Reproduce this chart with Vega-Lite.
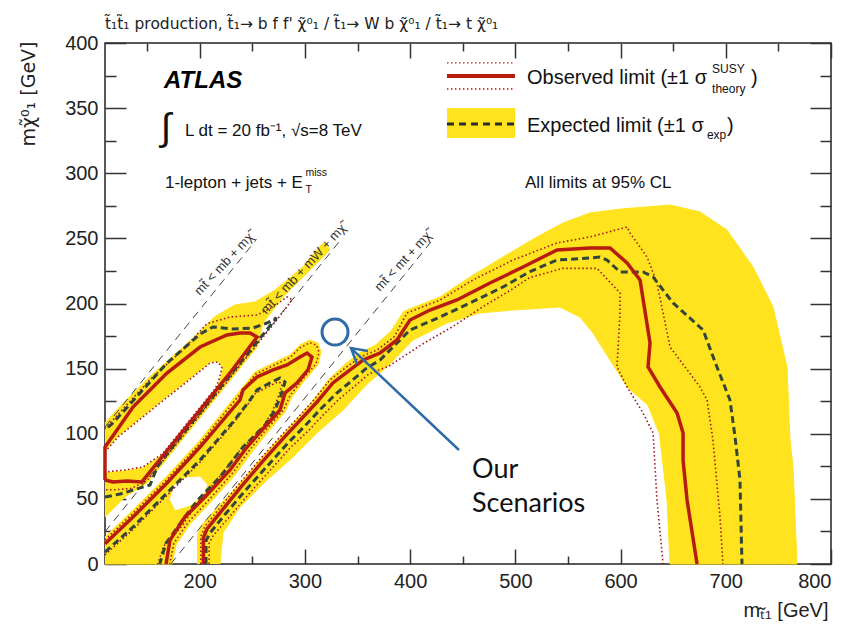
{
"$schema":"https://vega.github.io/schema/vega-lite/v6.json",
"width":726,"height":521,
"autosize":{"type":"none"},
"padding":{"left":105,"top":43,"right":19,"bottom":75},
"background":"white",
"title":{"text":"t\u0303\u2081t\u0303\u2081 production, t\u0303\u2081\u2192 b f f' \u03c7\u0303\u2070\u2081 / t\u0303\u2081\u2192 W b \u03c7\u0303\u2070\u2081 / t\u0303\u2081\u2192 t \u03c7\u0303\u2070\u2081","anchor":"start","frame":"group","font":"DejaVu Sans","fontSize":15.5,"fontWeight":"normal","color":"#222","baseline":"alphabetic","offset":-11},
"config":{"font":"Liberation Sans","view":{"stroke":"#222","strokeWidth":1.5},"axis":{"grid":false,"tickColor":"#333","tickWidth":1.5,"labelColor":"#222","titleColor":"#222","labelFont":"Liberation Sans","titleFont":"Liberation Sans"}},
"resolve":{"axis":{"x":"independent","y":"independent"}},
"datasets":{
"yellow":[
{"g":"A","x":110,"y":108.3},{"g":"A","x":124.3,"y":121},{"g":"A","x":152.8,"y":144},{"g":"A","x":184.1,"y":166.5},{"g":"A","x":200.3,"y":178.5},{"g":"A","x":214.5,"y":190},{"g":"A","x":233.6,"y":198.9},{"g":"A","x":252.6,"y":201.2},{"g":"A","x":271.6,"y":210.4},{"g":"A","x":285.8,"y":219.6},{"g":"A","x":300.1,"y":229.6},{"g":"A","x":309.6,"y":239.5},{"g":"A","x":316.2,"y":245.7},{"g":"A","x":320,"y":246},{"g":"A","x":323.8,"y":241.1},{"g":"A","x":302,"y":223.4},{"g":"A","x":279.2,"y":205},{"g":"A","x":260.2,"y":185},{"g":"A","x":255,"y":167},{"g":"A","x":250,"y":162},{"g":"A","x":220,"y":132},{"g":"A","x":190,"y":102},{"g":"A","x":160,"y":72},{"g":"A","x":150,"y":62},{"g":"A","x":146.1,"y":60.5},{"g":"A","x":129,"y":51.4},{"g":"A","x":111.9,"y":37.6},{"g":"A","x":110,"y":36.1},
{"g":"B","x":110,"y":20.7},{"g":"B","x":136.6,"y":41.5},{"g":"B","x":168.9,"y":67.6},{"g":"B","x":200.3,"y":95.2},{"g":"B","x":236.4,"y":131.3},{"g":"B","x":252.6,"y":147.4},{"g":"B","x":269.7,"y":154.3},{"g":"B","x":285.8,"y":160.5},{"g":"B","x":295.3,"y":168.1},{"g":"B","x":304.8,"y":172},{"g":"B","x":312.4,"y":169.7},{"g":"B","x":315.3,"y":162.8},{"g":"B","x":312.4,"y":152.8},{"g":"B","x":300.1,"y":141.3},{"g":"B","x":287.7,"y":128.2},{"g":"B","x":281.1,"y":116.7},{"g":"B","x":264.9,"y":101.3},{"g":"B","x":249.7,"y":86},{"g":"B","x":233.6,"y":68.3},{"g":"B","x":209.8,"y":46.8},{"g":"B","x":190.8,"y":30.7},{"g":"B","x":177.5,"y":14.6},{"g":"B","x":173.7,"y":0},{"g":"B","x":110,"y":0},
{"g":"C","x":198,"y":0},{"g":"C","x":198,"y":22},{"g":"C","x":202,"y":30},{"g":"C","x":214,"y":41},{"g":"C","x":236,"y":60},{"g":"C","x":257,"y":80},{"g":"C","x":277,"y":98},{"g":"C","x":292,"y":111},{"g":"C","x":308,"y":126},{"g":"C","x":323,"y":142},{"g":"C","x":339,"y":154},{"g":"C","x":352,"y":162},{"g":"C","x":367,"y":168},{"g":"C","x":382,"y":179},{"g":"C","x":394,"y":194},{"g":"C","x":428.4,"y":205},{"g":"C","x":456.9,"y":220.4},{"g":"C","x":488.3,"y":235.7},{"g":"C","x":520.6,"y":251.1},{"g":"C","x":545.3,"y":261.8},{"g":"C","x":570.9,"y":269.5},{"g":"C","x":600,"y":272.5},{"g":"C","x":647,"y":275.6},{"g":"C","x":675.5,"y":270.3},{"g":"C","x":701.1,"y":256.4},{"g":"C","x":725.9,"y":228},{"g":"C","x":744.9,"y":197.3},{"g":"C","x":758.2,"y":151.3},{"g":"C","x":761,"y":95.2},{"g":"C","x":763.9,"y":74.5},{"g":"C","x":767.7,"y":0},{"g":"C","x":647,"y":0},{"g":"C","x":644.2,"y":49.1},{"g":"C","x":637,"y":100},{"g":"C","x":626,"y":122},{"g":"C","x":606.2,"y":135.9},{"g":"C","x":590,"y":156.6},{"g":"C","x":573.8,"y":177.4},{"g":"C","x":561.4,"y":189.6},{"g":"C","x":542.4,"y":197.3},{"g":"C","x":497.8,"y":195},{"g":"C","x":466.4,"y":192.7},{"g":"C","x":435,"y":185},{"g":"C","x":402.8,"y":172},{"g":"C","x":380,"y":153},{"g":"C","x":359,"y":138},{"g":"C","x":336.2,"y":118.2},{"g":"C","x":311.5,"y":100.6},{"g":"C","x":288.7,"y":82.2},{"g":"C","x":264,"y":64.5},{"g":"C","x":238.3,"y":43.8},{"g":"C","x":222.1,"y":23.8},{"g":"C","x":219.3,"y":0}
],
"holes":[
{"g":"A","x":110,"y":86},{"g":"A","x":122.4,"y":97.5},{"g":"A","x":136.6,"y":106.7},{"g":"A","x":162.3,"y":123.6},{"g":"A","x":193.6,"y":143.6},{"g":"A","x":209.8,"y":154.3},{"g":"A","x":217.4,"y":155.1},{"g":"A","x":221.2,"y":150.5},{"g":"A","x":218.3,"y":141.3},{"g":"A","x":215,"y":135},{"g":"A","x":190,"y":110},{"g":"A","x":165,"y":85},{"g":"A","x":146.1,"y":74.5},{"g":"A","x":129,"y":72.2},{"g":"A","x":110,"y":70.6},
{"g":"B","x":171.8,"y":49.1},{"g":"B","x":176.5,"y":60.7},{"g":"B","x":186,"y":66},{"g":"B","x":200.3,"y":66.8},{"g":"B","x":206.9,"y":60.7},{"g":"B","x":203.1,"y":53},{"g":"B","x":190.8,"y":45.3},{"g":"B","x":176.5,"y":41.5}
],
"kin":[
{"g":"1","x":110,"y":105.2},{"g":"1","x":254,"y":249.2},
{"g":"2","x":110,"y":24.8},{"g":"2","x":335,"y":249.8},
{"g":"3","x":172.5,"y":0},{"g":"3","x":423,"y":250.5}
],
"dotted":[
{"g":"Au","x":110,"y":104},{"g":"Au","x":152.8,"y":141.5},{"g":"Au","x":184.1,"y":164.5},{"g":"Au","x":206.9,"y":184.5},{"g":"Au","x":228.8,"y":189.6},{"g":"Au","x":254.5,"y":191.2},{"g":"Au","x":269.7,"y":197.3},{"g":"Au","x":283,"y":205},{"g":"Au","x":288,"y":203},{"g":"Au","x":272,"y":186},{"g":"Au","x":240,"y":154},{"g":"Au","x":200,"y":114},{"g":"Au","x":160,"y":74},{"g":"Au","x":150,"y":64},{"g":"Au","x":135,"y":58},{"g":"Au","x":120,"y":57},{"g":"Au","x":110,"y":57},
{"g":"Ad","x":110,"y":86},{"g":"Ad","x":122.4,"y":97.5},{"g":"Ad","x":136.6,"y":106.7},{"g":"Ad","x":162.3,"y":123.6},{"g":"Ad","x":193.6,"y":143.6},{"g":"Ad","x":209.8,"y":154.3},{"g":"Ad","x":217.4,"y":155.1},{"g":"Ad","x":221.2,"y":150.5},{"g":"Ad","x":218.3,"y":141.3},{"g":"Ad","x":215,"y":135},{"g":"Ad","x":190,"y":110},{"g":"Ad","x":165,"y":85},{"g":"Ad","x":146.1,"y":74.5},{"g":"Ad","x":129,"y":72.2},{"g":"Ad","x":110,"y":70.6},
{"g":"Bu","x":110,"y":18.5},{"g":"Bu","x":136.6,"y":39},{"g":"Bu","x":168.9,"y":65},{"g":"Bu","x":200.3,"y":92.5},{"g":"Bu","x":236.4,"y":128.5},{"g":"Bu","x":252.6,"y":145.5},{"g":"Bu","x":269.7,"y":152.3},{"g":"Bu","x":285.8,"y":158.5},{"g":"Bu","x":295.3,"y":166},{"g":"Bu","x":304.8,"y":170},{"g":"Bu","x":311,"y":168},{"g":"Bu","x":313.5,"y":162.5},{"g":"Bu","x":310.5,"y":153.5},{"g":"Bu","x":298.5,"y":142.5},{"g":"Bu","x":286,"y":129.5},{"g":"Bu","x":279.5,"y":118},{"g":"Bu","x":263,"y":103},{"g":"Bu","x":248,"y":88},{"g":"Bu","x":231.5,"y":70},{"g":"Bu","x":208,"y":48.5},{"g":"Bu","x":189,"y":32},{"g":"Bu","x":175.5,"y":16},{"g":"Bu","x":171.5,"y":0},
{"g":"Bd","x":110,"y":7},{"g":"Bd","x":136,"y":26},{"g":"Bd","x":168,"y":52},{"g":"Bd","x":199,"y":77},{"g":"Bd","x":230,"y":106},{"g":"Bd","x":246,"y":123},{"g":"Bd","x":253,"y":131},{"g":"Bd","x":266,"y":136.5},{"g":"Bd","x":275,"y":140},{"g":"Bd","x":278.5,"y":138},{"g":"Bd","x":275,"y":129},{"g":"Bd","x":269,"y":117},{"g":"Bd","x":260,"y":105},{"g":"Bd","x":239,"y":88},{"g":"Bd","x":217,"y":65},{"g":"Bd","x":198,"y":47},{"g":"Bd","x":184,"y":30},{"g":"Bd","x":166,"y":14},{"g":"Bd","x":160,"y":0},
{"g":"Cu","x":201,"y":0},{"g":"Cu","x":201,"y":21},{"g":"Cu","x":205,"y":29},{"g":"Cu","x":218,"y":42},{"g":"Cu","x":238,"y":62},{"g":"Cu","x":258,"y":81},{"g":"Cu","x":278,"y":99},{"g":"Cu","x":293,"y":112},{"g":"Cu","x":309,"y":126.5},{"g":"Cu","x":324,"y":141.5},{"g":"Cu","x":340,"y":151.5},{"g":"Cu","x":353,"y":159},{"g":"Cu","x":369,"y":164.5},{"g":"Cu","x":385,"y":174.5},{"g":"Cu","x":397,"y":192.7},{"g":"Cu","x":428.4,"y":202.7},{"g":"Cu","x":459.8,"y":218.1},{"g":"Cu","x":497.8,"y":233.4},{"g":"Cu","x":539.6,"y":246.5},{"g":"Cu","x":570.9,"y":251.1},{"g":"Cu","x":606.2,"y":258.7},{"g":"Cu","x":609,"y":254.1},{"g":"Cu","x":625.2,"y":235.7},{"g":"Cu","x":634.6,"y":215.7},{"g":"Cu","x":647,"y":166.6},{"g":"Cu","x":675.5,"y":135.9},{"g":"Cu","x":682.2,"y":125.9},{"g":"Cu","x":687.8,"y":95.2},{"g":"Cu","x":694.5,"y":36.1},{"g":"Cu","x":697.3,"y":0},
{"g":"Cd","x":209,"y":0},{"g":"Cd","x":209,"y":16},{"g":"Cd","x":213,"y":22},{"g":"Cd","x":227,"y":35},{"g":"Cd","x":247,"y":54},{"g":"Cd","x":267,"y":72},{"g":"Cd","x":287,"y":90},{"g":"Cd","x":303,"y":102},{"g":"Cd","x":318,"y":115},{"g":"Cd","x":333,"y":127},{"g":"Cd","x":348,"y":137},{"g":"Cd","x":361,"y":146},{"g":"Cd","x":380,"y":152},{"g":"Cd","x":410,"y":168},{"g":"Cd","x":440,"y":182},{"g":"Cd","x":470,"y":198},{"g":"Cd","x":495,"y":210},{"g":"Cd","x":513.9,"y":220},{"g":"Cd","x":545,"y":227},{"g":"Cd","x":577.6,"y":227},{"g":"Cd","x":599.5,"y":208.1},{"g":"Cd","x":599.5,"y":192.7},{"g":"Cd","x":596.6,"y":151.3},{"g":"Cd","x":606.2,"y":135.9},{"g":"Cd","x":621.4,"y":115.9},{"g":"Cd","x":630.9,"y":100.6},{"g":"Cd","x":634.6,"y":49.1},{"g":"Cd","x":640.4,"y":0}
],
"exp":[
{"g":"A","x":110,"y":51.4},{"g":"A","x":124.3,"y":53.7},{"g":"A","x":136.6,"y":56.8},{"g":"A","x":152.8,"y":60.7},{"g":"A","x":160,"y":75},{"g":"A","x":180,"y":96},{"g":"A","x":220,"y":136},{"g":"A","x":260,"y":176},{"g":"A","x":273,"y":189},{"g":"A","x":264,"y":185},{"g":"A","x":250.7,"y":181.2},{"g":"A","x":231.7,"y":180.4},{"g":"A","x":212.6,"y":182},{"g":"A","x":200.3,"y":176.5},{"g":"A","x":168.9,"y":154.3},{"g":"A","x":143.3,"y":131.3},{"g":"A","x":117.6,"y":108.3},{"g":"A","x":110,"y":102.9},
{"g":"B","x":110,"y":9.2},{"g":"B","x":136.6,"y":28.4},{"g":"B","x":168.9,"y":54.5},{"g":"B","x":200.3,"y":79.8},{"g":"B","x":231.7,"y":109},{"g":"B","x":247.8,"y":125.9},{"g":"B","x":254.5,"y":133.6},{"g":"B","x":266.8,"y":139},{"g":"B","x":276.3,"y":142.8},{"g":"B","x":281.1,"y":139.7},{"g":"B","x":277.3,"y":129.8},{"g":"B","x":271.6,"y":118.2},{"g":"B","x":262.1,"y":106.7},{"g":"B","x":241.2,"y":89.8},{"g":"B","x":219.3,"y":66.8},{"g":"B","x":198,"y":49},{"g":"B","x":183,"y":33},{"g":"B","x":168,"y":16},{"g":"B","x":162,"y":0},
{"g":"C","x":206,"y":0},{"g":"C","x":206,"y":18},{"g":"C","x":210,"y":24},{"g":"C","x":224,"y":38},{"g":"C","x":244,"y":57},{"g":"C","x":264,"y":75},{"g":"C","x":284,"y":93},{"g":"C","x":300,"y":106},{"g":"C","x":315,"y":119},{"g":"C","x":330,"y":131},{"g":"C","x":345,"y":141},{"g":"C","x":358,"y":150},{"g":"C","x":371.4,"y":156.6},{"g":"C","x":399.9,"y":179.7},{"g":"C","x":428.4,"y":189.6},{"g":"C","x":456.9,"y":200.4},{"g":"C","x":488.3,"y":212.7},{"g":"C","x":513.9,"y":224.5},{"g":"C","x":539.6,"y":233.4},{"g":"C","x":570.9,"y":234.9},{"g":"C","x":580.4,"y":235.7},{"g":"C","x":587.1,"y":233.4},{"g":"C","x":599.5,"y":224.2},{"g":"C","x":621.4,"y":224.2},{"g":"C","x":630.9,"y":220.4},{"g":"C","x":649.9,"y":200.4},{"g":"C","x":678.4,"y":179.7},{"g":"C","x":691.6,"y":151.3},{"g":"C","x":704,"y":125.9},{"g":"C","x":708.8,"y":97.5},{"g":"C","x":713.5,"y":64.5},{"g":"C","x":715.4,"y":0}
],
"obs":[
{"g":"A","x":110,"y":64.5},{"g":"A","x":117.6,"y":63},{"g":"A","x":130.9,"y":63.7},{"g":"A","x":145,"y":63},{"g":"A","x":170,"y":88},{"g":"A","x":200,"y":118},{"g":"A","x":230,"y":148},{"g":"A","x":254.5,"y":174.3},{"g":"A","x":247.8,"y":177.4},{"g":"A","x":238.3,"y":177.4},{"g":"A","x":225.9,"y":175.8},{"g":"A","x":200.3,"y":166.6},{"g":"A","x":168.9,"y":146.6},{"g":"A","x":152.8,"y":133.6},{"g":"A","x":136.6,"y":120.5},{"g":"A","x":121.4,"y":102.9},{"g":"A","x":110,"y":89.8},{"g":"A","x":110,"y":64.5},
{"g":"B","x":110,"y":15.5},{"g":"B","x":136.6,"y":36.1},{"g":"B","x":168.9,"y":62.2},{"g":"B","x":200.3,"y":89.8},{"g":"B","x":238.3,"y":125.9},{"g":"B","x":241.2,"y":133.6},{"g":"B","x":254.5,"y":143.6},{"g":"B","x":269.7,"y":149},{"g":"B","x":283,"y":152.8},{"g":"B","x":295.3,"y":158.9},{"g":"B","x":302,"y":162},{"g":"B","x":306.7,"y":158.9},{"g":"B","x":302.9,"y":149},{"g":"B","x":292.5,"y":139},{"g":"B","x":281.1,"y":131.3},{"g":"B","x":276.3,"y":118.2},{"g":"B","x":259.2,"y":102.9},{"g":"B","x":245,"y":89.8},{"g":"B","x":228.8,"y":72.2},{"g":"B","x":205,"y":51.4},{"g":"B","x":186,"y":36.1},{"g":"B","x":171.8,"y":18.4},{"g":"B","x":168,"y":0},
{"g":"C","x":203.5,"y":0},{"g":"C","x":203.5,"y":20},{"g":"C","x":207,"y":27},{"g":"C","x":220,"y":40},{"g":"C","x":240,"y":60},{"g":"C","x":260,"y":79},{"g":"C","x":280,"y":97},{"g":"C","x":295,"y":110},{"g":"C","x":311.5,"y":124.4},{"g":"C","x":326.6,"y":139},{"g":"C","x":342.9,"y":149},{"g":"C","x":355.2,"y":156.6},{"g":"C","x":371.4,"y":162},{"g":"C","x":387.5,"y":172},{"g":"C","x":399.9,"y":187.3},{"g":"C","x":418.9,"y":195},{"g":"C","x":444.5,"y":202.7},{"g":"C","x":475.9,"y":215.7},{"g":"C","x":507.3,"y":228},{"g":"C","x":539.6,"y":241.1},{"g":"C","x":570.9,"y":242.6},{"g":"C","x":590,"y":242.6},{"g":"C","x":606.2,"y":231.1},{"g":"C","x":618.5,"y":218.1},{"g":"C","x":628,"y":169.7},{"g":"C","x":626.1,"y":151.3},{"g":"C","x":637.5,"y":135.9},{"g":"C","x":653.7,"y":115.9},{"g":"C","x":659.4,"y":100.6},{"g":"C","x":659.4,"y":79.8},{"g":"C","x":663.2,"y":49.1},{"g":"C","x":672.7,"y":0}
],
"legDot":[{"g":"a","x":435,"y":384.7},{"g":"a","x":499.7,"y":384.7},{"g":"b","x":435,"y":364.7},{"g":"b","x":499.7,"y":364.7}],
"legRed":[{"g":"a","x":435,"y":374.7},{"g":"a","x":499.7,"y":374.7}],
"legDash":[{"g":"a","x":435,"y":337.8},{"g":"a","x":499.7,"y":337.8}],
"legBox":[{"x":435,"x2":499.7,"y":327.1,"y2":350.1}],
"arrow":[{"g":"shaft","x":446.4,"y":87.5},{"g":"shaft","x":343.8,"y":165.8},{"g":"head","x":349.5,"y":153.6},{"g":"head","x":343.8,"y":165.8},{"g":"head","x":360,"y":163.5}]
},
"layer":[
{"data":{"name":"yellow"},"mark":{"type":"line","fill":"#ffe31e","stroke":"#ffe31e","strokeWidth":1},
"encoding":{
"x":{"field":"x","type":"quantitative","scale":{"domain":[110,800],"nice":false,"zero":false},"axis":{"orient":"bottom","values":[200,300,400,500,600,700,800],"ticks":false,"domain":false,"labelFontSize":20,"labelPadding":7,"title":"m\u209c\u0303\u2081 [GeV]","titleFontSize":20,"titleFontWeight":"normal","titleAlign":"right","titleAnchor":"end","titleX":723,"titleY":46,"titleBaseline":"middle"}},
"y":{"field":"y","type":"quantitative","scale":{"domain":[0,400],"nice":false,"zero":false},"axis":{"orient":"left","values":[0,50,100,150,200,250,300,350,400],"ticks":false,"domain":false,"labelFontSize":20,"labelPadding":7,"title":"m\u03c7\u0303\u2070\u2081 [GeV]","titleFont":"DejaVu Sans","titleFontSize":19,"titleFontWeight":"normal","titleAngle":-90,"titleAlign":"right","titleAnchor":"end","titleX":-77,"titleY":-2,"titleBaseline":"middle"}},
"detail":{"field":"g"},"order":{"value":null}}},
{"data":{"name":"holes"},"mark":{"type":"line","fill":"white","stroke":"white","strokeWidth":1},
"encoding":{
"x":{"field":"x","type":"quantitative","scale":{"domain":[110,800],"nice":false,"zero":false},"axis":{"orient":"bottom","values":[200,300,400,500,600,700,800],"tickSize":-15,"labels":false,"domain":false,"title":null}},
"y":{"field":"y","type":"quantitative","scale":{"domain":[0,400],"nice":false,"zero":false},"axis":{"orient":"left","values":[0,50,100,150,200,250,300,350,400],"tickSize":-21,"labels":false,"domain":false,"title":null}},
"detail":{"field":"g"},"order":{"value":null}}},
{"data":{"name":"kin"},"mark":{"type":"line","stroke":"#444","strokeWidth":1,"strokeDash":[8,6]},
"encoding":{
"x":{"field":"x","type":"quantitative","scale":{"domain":[110,800],"nice":false,"zero":false},"axis":{"orient":"bottom","values":[150,250,350,450,550,650,750],"tickSize":-8,"labels":false,"domain":false,"title":null}},
"y":{"field":"y","type":"quantitative","scale":{"domain":[0,400],"nice":false,"zero":false},"axis":{"orient":"left","values":[25,75,125,175,225,275,325,375],"tickSize":-11,"labels":false,"domain":false,"title":null}},
"detail":{"field":"g"},"order":{"value":null}}},
{"data":{"name":"dotted"},"mark":{"type":"line","stroke":"#a3141c","strokeWidth":1.6,"strokeDash":[1.5,2.5]},
"encoding":{
"x":{"field":"x","type":"quantitative","scale":{"domain":[110,800],"nice":false,"zero":false},"axis":{"orient":"top","values":[200,300,400,500,600,700,800],"tickSize":-15,"labels":false,"domain":false,"title":null}},
"y":{"field":"y","type":"quantitative","scale":{"domain":[0,400],"nice":false,"zero":false},"axis":{"orient":"right","values":[0,50,100,150,200,250,300,350,400],"tickSize":-21,"labels":false,"domain":false,"title":null}},
"detail":{"field":"g"},"order":{"value":null}}},
{"data":{"name":"exp"},"mark":{"type":"line","stroke":"#34463a","strokeWidth":3,"strokeDash":[7,4]},
"encoding":{
"x":{"field":"x","type":"quantitative","scale":{"domain":[110,800],"nice":false,"zero":false},"axis":{"orient":"top","values":[150,250,350,450,550,650,750],"tickSize":-8,"labels":false,"domain":false,"title":null}},
"y":{"field":"y","type":"quantitative","scale":{"domain":[0,400],"nice":false,"zero":false},"axis":{"orient":"right","values":[25,75,125,175,225,275,325,375],"tickSize":-11,"labels":false,"domain":false,"title":null}},
"detail":{"field":"g"},"order":{"value":null}}},
{"data":{"name":"obs"},"mark":{"type":"line","stroke":"#b71c10","strokeWidth":3.5},
"encoding":{
"x":{"field":"x","type":"quantitative","scale":{"domain":[110,800],"nice":false,"zero":false},"axis":null},
"y":{"field":"y","type":"quantitative","scale":{"domain":[0,400],"nice":false,"zero":false},"axis":null},
"detail":{"field":"g"},"order":{"value":null}}},
{"data":{"name":"legBox"},"mark":{"type":"rect","fill":"#ffe31e"},
"encoding":{
"x":{"field":"x","type":"quantitative","scale":{"domain":[110,800],"nice":false,"zero":false},"axis":null},"x2":{"field":"x2"},
"y":{"field":"y","type":"quantitative","scale":{"domain":[0,400],"nice":false,"zero":false},"axis":null},"y2":{"field":"y2"}}},
{"data":{"name":"legDot"},"mark":{"type":"line","stroke":"#b71c10","strokeWidth":1.3,"strokeDash":[1.5,2.5]},
"encoding":{
"x":{"field":"x","type":"quantitative","scale":{"domain":[110,800],"nice":false,"zero":false},"axis":null},
"y":{"field":"y","type":"quantitative","scale":{"domain":[0,400],"nice":false,"zero":false},"axis":null},
"detail":{"field":"g"},"order":{"value":null}}},
{"data":{"name":"legRed"},"mark":{"type":"line","stroke":"#b71c10","strokeWidth":4},
"encoding":{
"x":{"field":"x","type":"quantitative","scale":{"domain":[110,800],"nice":false,"zero":false},"axis":null},
"y":{"field":"y","type":"quantitative","scale":{"domain":[0,400],"nice":false,"zero":false},"axis":null},
"detail":{"field":"g"},"order":{"value":null}}},
{"data":{"name":"legDash"},"mark":{"type":"line","stroke":"#2a2a2a","strokeWidth":3,"strokeDash":[7,5]},
"encoding":{
"x":{"field":"x","type":"quantitative","scale":{"domain":[110,800],"nice":false,"zero":false},"axis":null},
"y":{"field":"y","type":"quantitative","scale":{"domain":[0,400],"nice":false,"zero":false},"axis":null},
"detail":{"field":"g"},"order":{"value":null}}},
{"data":{"values":[{"x":328.6,"y":178.1}]},"mark":{"type":"point","shape":"circle","filled":false,"size":676,"stroke":"#2d6ca5","strokeWidth":3,"opacity":1},
"encoding":{
"x":{"field":"x","type":"quantitative","scale":{"domain":[110,800],"nice":false,"zero":false},"axis":null},
"y":{"field":"y","type":"quantitative","scale":{"domain":[0,400],"nice":false,"zero":false},"axis":null}}},
{"data":{"name":"arrow"},"mark":{"type":"line","stroke":"#2d6ca5","strokeWidth":2.5},
"encoding":{
"x":{"field":"x","type":"quantitative","scale":{"domain":[110,800],"nice":false,"zero":false},"axis":null},
"y":{"field":"y","type":"quantitative","scale":{"domain":[0,400],"nice":false,"zero":false},"axis":null},
"detail":{"field":"g"},"order":{"value":null}}},
{"data":{"values":[{"t":"mt\u0303 < mb + m\u03c7\u0303","x":223.1,"y":230.3},{"t":"mt\u0303 < mb + mW + m\u03c7\u0303","x":298.7,"y":226.5},{"t":"mt\u0303 < mt + m\u03c7\u0303","x":393.2,"y":232.3}]},
"mark":{"type":"text","angle":-47,"fontSize":13,"color":"#333","align":"center","baseline":"middle"},
"encoding":{
"x":{"field":"x","type":"quantitative","scale":{"domain":[110,800],"nice":false,"zero":false},"axis":null},
"y":{"field":"y","type":"quantitative","scale":{"domain":[0,400],"nice":false,"zero":false},"axis":null},
"text":{"field":"t"}}},
{"data":{"values":[{"t":"ATLAS","x":166.1,"y":365.5}]},
"mark":{"type":"text","fontSize":24,"fontWeight":"bold","fontStyle":"italic","color":"#000","align":"left","baseline":"alphabetic"},
"encoding":{
"x":{"field":"x","type":"quantitative","scale":{"domain":[110,800],"nice":false,"zero":false},"axis":null},
"y":{"field":"y","type":"quantitative","scale":{"domain":[0,400],"nice":false,"zero":false},"axis":null},
"text":{"field":"t"}}},
{"data":{"values":[{"t":"\u222b","x":163,"y":325.5}]},
"mark":{"type":"text","fontSize":38,"color":"#111","align":"left","baseline":"alphabetic"},
"encoding":{
"x":{"field":"x","type":"quantitative","scale":{"domain":[110,800],"nice":false,"zero":false},"axis":null},
"y":{"field":"y","type":"quantitative","scale":{"domain":[0,400],"nice":false,"zero":false},"axis":null},
"text":{"field":"t"}}},
{"data":{"values":[{"t":"L dt = 20 fb\u207b\u00b9, \u221as=8 TeV","x":186,"y":328.6},{"t":"1-lepton + jets + E","x":167,"y":288.7},{"t":"All limits at 95% CL","x":509.2,"y":288.7}]},
"mark":{"type":"text","fontSize":17,"color":"#111","align":"left","baseline":"alphabetic"},
"encoding":{
"x":{"field":"x","type":"quantitative","scale":{"domain":[110,800],"nice":false,"zero":false},"axis":null},
"y":{"field":"y","type":"quantitative","scale":{"domain":[0,400],"nice":false,"zero":false},"axis":null},
"text":{"field":"t"}}},
{"data":{"values":[{"t":"miss","x":300.5,"y":297.9},{"t":"T","x":300.5,"y":285}]},
"mark":{"type":"text","fontSize":10.5,"color":"#111","align":"left","baseline":"alphabetic"},
"encoding":{
"x":{"field":"x","type":"quantitative","scale":{"domain":[110,800],"nice":false,"zero":false},"axis":null},
"y":{"field":"y","type":"quantitative","scale":{"domain":[0,400],"nice":false,"zero":false},"axis":null},
"text":{"field":"t"}}},
{"data":{"values":[{"t":"Observed limit (\u00b11 \u03c3","x":511.1,"y":368.5},{"t":")","x":724,"y":368.5},{"t":"Expected limit (\u00b11 \u03c3","x":511.1,"y":331.7},{"t":")","x":701.2,"y":331.7}]},
"mark":{"type":"text","fontSize":20,"color":"#111","align":"left","baseline":"alphabetic"},
"encoding":{
"x":{"field":"x","type":"quantitative","scale":{"domain":[110,800],"nice":false,"zero":false},"axis":null},
"y":{"field":"y","type":"quantitative","scale":{"domain":[0,400],"nice":false,"zero":false},"axis":null},
"text":{"field":"t"}}},
{"data":{"values":[{"t":"SUSY","x":687,"y":377},{"t":"theory","x":687,"y":361.6},{"t":"exp","x":682.1,"y":326.3}]},
"mark":{"type":"text","fontSize":12,"color":"#111","align":"left","baseline":"alphabetic"},
"encoding":{
"x":{"field":"x","type":"quantitative","scale":{"domain":[110,800],"nice":false,"zero":false},"axis":null},
"y":{"field":"y","type":"quantitative","scale":{"domain":[0,400],"nice":false,"zero":false},"axis":null},
"text":{"field":"t"}}},
{"data":{"values":[{"t":"Our","x":458.8,"y":66},{"t":"Scenarios","x":458.8,"y":39.9}]},
"mark":{"type":"text","font":"Lato","fontSize":27,"color":"#111","align":"left","baseline":"alphabetic"},
"encoding":{
"x":{"field":"x","type":"quantitative","scale":{"domain":[110,800],"nice":false,"zero":false},"axis":null},
"y":{"field":"y","type":"quantitative","scale":{"domain":[0,400],"nice":false,"zero":false},"axis":null},
"text":{"field":"t"}}}
]
}
